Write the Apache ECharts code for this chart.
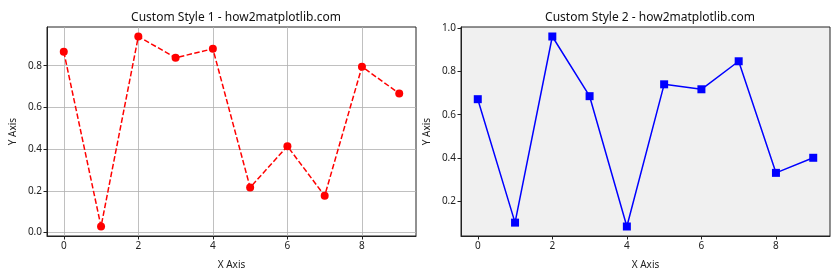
<!DOCTYPE html>
<html><head><meta charset="utf-8">
<script src="https://cdn.jsdelivr.net/npm/echarts@6/dist/echarts.min.js"></script>
<style>html,body{margin:0;padding:0;background:#fff}#c{width:840px;height:280px}</style>
</head><body><div id="c"></div>
<script>
const xValues = [0,1,2,3,4,5,6,7,8,9];
const series1 = [0.867,0.029,0.940,0.838,0.881,0.216,0.414,0.176,0.795,0.667];
const series2 = [0.672,0.099,0.963,0.686,0.081,0.741,0.718,0.848,0.330,0.400];
const xTicks = [0,2,4,6,8];
const yTicks1 = [0.0,0.2,0.4,0.6,0.8];
const yTicks2 = [0.2,0.4,0.6,0.8,1.0];
const titles = ['Custom Style 1 - how2matplotlib.com','Custom Style 2 - how2matplotlib.com'];

const FONT = 'Noto Sans';
const txt = {fontFamily: FONT, fontSize: 10, color: '#222'};
function xAxis(gi, grid){
  return {type:'value', gridIndex: gi, min:-0.45, max:9.45,
    name:'X Axis', nameLocation:'middle', nameGap:24, nameTextStyle:Object.assign({},txt),
    axisLine:{show:true,onZero:false,lineStyle:{color:'#222'}},
    axisTick:{show:true,length:3.5,customValues:xTicks,lineStyle:{color:'#222'}},
    axisLabel:Object.assign({customValues:xTicks,margin:5},txt),
    splitLine:{show:grid,lineStyle:{color:'#b0b0b0',width:0.8}}};
}
function yAxis(gi, ticks, min, max, grid){
  return {type:'value', gridIndex: gi, min:min, max:max,
    name:'Y Axis', nameLocation:'middle', nameGap:29, nameTextStyle:Object.assign({},txt),
    axisLine:{show:true,onZero:false,lineStyle:{color:'#222'}},
    axisTick:{show:true,length:3.5,customValues:ticks,lineStyle:{color:'#222'}},
    axisLabel:Object.assign({customValues:ticks,margin:5,formatter:v=>v.toFixed(1)},txt),
    splitLine:{show:grid,lineStyle:{color:'#b0b0b0',width:0.8}}};
}
const chart = echarts.init(document.getElementById('c'), null, {renderer:'canvas'});
chart.setOption({
  animation:false,
  backgroundColor:'#fff',
  title:[
    {text:titles[0], left:231, top:7, textAlign:'center', textStyle:{fontFamily:FONT,fontSize:12,fontWeight:'normal',color:'#111'}},
    {text:titles[1], left:645, top:7, textAlign:'center', textStyle:{fontFamily:FONT,fontSize:12,fontWeight:'normal',color:'#111'}}
  ],
  grid:[
    {left:47, right:424, top:27, bottom:44, show:true, borderColor:'#222', borderWidth:1, backgroundColor:'#fff'},
    {left:461, right:10, top:27, bottom:44, show:true, borderColor:'#222', borderWidth:1, backgroundColor:'#f0f0f0'}
  ],
  xAxis:[xAxis(0,true), xAxis(1,false)],
  yAxis:[yAxis(0,yTicks1,-0.0165,0.9855,true), yAxis(1,yTicks2,0.0369,1.0071,false)],
  series:[
    {type:'line', xAxisIndex:0, yAxisIndex:0, data:xValues.map((x,i)=>[x,series1[i]]),
     symbol:'circle', symbolSize:8, itemStyle:{color:'#ff0000'},
     lineStyle:{color:'#ff0000',width:1.5,type:[5.5,2.4]}},
    {type:'line', xAxisIndex:1, yAxisIndex:1, data:xValues.map((x,i)=>[x,series2[i]]),
     symbol:'rect', symbolSize:8, itemStyle:{color:'#0000ff'},
     lineStyle:{color:'#0000ff',width:1.5}}
  ]
});
</script></body></html>
